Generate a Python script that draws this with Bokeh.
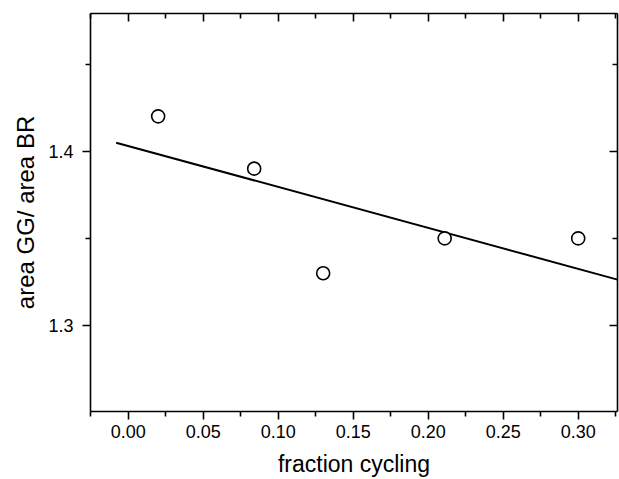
import numpy as np
from bokeh.plotting import figure
from bokeh.models import LinearAxis, FixedTicker, Range1d, CustomJSTickFormatter
from bokeh.embed import file_html
from bokeh.resources import INLINE

# data
fraction_cycling = [0.020, 0.084, 0.130, 0.211, 0.300]
area_ratio = [1.420, 1.390, 1.330, 1.350, 1.350]
fit_x = [-0.008, 0.3262]
x_major = [0.00, 0.05, 0.10, 0.15, 0.20, 0.25, 0.30]
x_minor = [-0.025, 0.025, 0.075, 0.125, 0.175, 0.225, 0.275, 0.325]
y_major = [1.3, 1.4]
y_minor = [1.25, 1.35, 1.45]

slope, intercept = np.polyfit(fraction_cycling, area_ratio, 1)
fit_y = [intercept + slope * v for v in fit_x]

FONT = "Liberation Sans"

p = figure(width=619, height=479, output_backend="svg", toolbar_location=None,
           x_range=Range1d(-0.0251, 0.3262), y_range=Range1d(1.2507, 1.479),
           min_border_left=90, min_border_top=13, min_border_right=2, min_border_bottom=68,
           x_axis_label="fraction cycling", y_axis_label="area GG/ area BR")
p.grid.visible = False
p.outline_line_color = None
p.background_fill_color = "white"
p.border_fill_color = "white"

p.xaxis[0].ticker = FixedTicker(ticks=x_major, minor_ticks=x_minor)
p.yaxis[0].ticker = FixedTicker(ticks=y_major, minor_ticks=y_minor)

def style(ax, labels=True, inside=False):
    ax.axis_line_width = 1.6
    ax.axis_line_color = "black"
    ax.major_tick_line_width = 1.6
    ax.minor_tick_line_width = 1.6
    ax.major_tick_line_color = "black"
    ax.minor_tick_line_color = "black"
    if inside:
        ax.major_tick_in = 8
        ax.major_tick_out = 0
        ax.minor_tick_in = 5
        ax.minor_tick_out = 0
    else:
        ax.major_tick_in = 0
        ax.major_tick_out = 8
        ax.minor_tick_in = 0
        ax.minor_tick_out = 5
    if labels:
        ax.major_label_text_font = FONT
        ax.major_label_text_font_size = "18px"
        ax.major_label_text_color = "black"
        ax.axis_label_text_font = FONT
        ax.axis_label_text_font_style = "normal"
        ax.axis_label_text_color = "black"
    else:
        ax.major_label_text_font_size = "0px"
        ax.major_label_text_color = None

style(p.xaxis[0])
style(p.yaxis[0])
p.xaxis[0].axis_label_text_font_size = "23px"
p.yaxis[0].axis_label_text_font_size = "24px"
p.xaxis[0].major_label_standoff = 5
p.xaxis[0].axis_label_standoff = 10
p.yaxis[0].major_label_standoff = 9
p.yaxis[0].axis_label_standoff = 6
p.xaxis[0].formatter = CustomJSTickFormatter(code="return tick.toFixed(2);")
p.yaxis[0].formatter = CustomJSTickFormatter(code="return tick.toFixed(1);")

top = LinearAxis(ticker=FixedTicker(ticks=x_major, minor_ticks=x_minor))
style(top, labels=False, inside=True)
top.major_label_standoff = 0
p.add_layout(top, "above")
right = LinearAxis(ticker=FixedTicker(ticks=y_major, minor_ticks=y_minor))
style(right, labels=False, inside=True)
right.major_label_standoff = 0
p.add_layout(right, "right")

p.line(fit_x, fit_y, line_color="black", line_width=2)
p.scatter(fraction_cycling, area_ratio, marker="circle", size=13,
          fill_color="white", line_color="black", line_width=1.6)

open("out.html", "w").write(file_html(p, INLINE))
